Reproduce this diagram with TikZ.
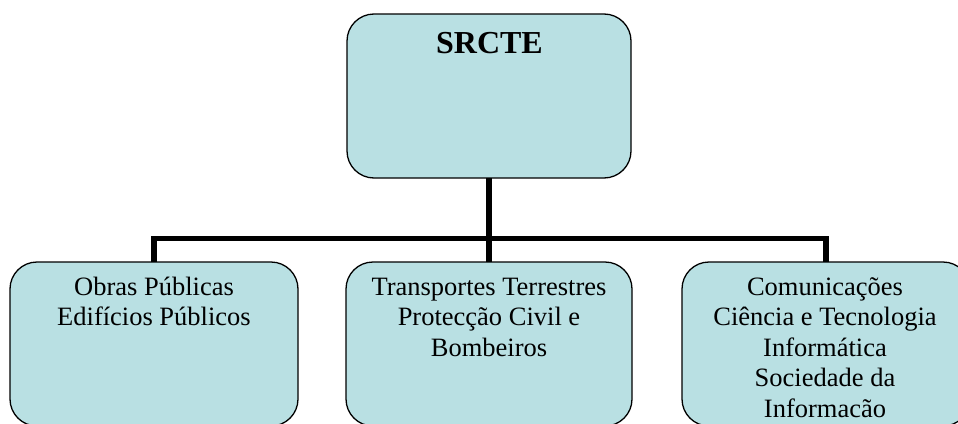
\documentclass[tikz,border=0pt]{standalone}
\usepackage{fontspec}
\setmainfont{Liberation Serif}
\definecolor{boxfill}{RGB}{185,224,227}
\begin{document}
\begin{tikzpicture}[x=1pt,y=-1pt,
  box/.style={draw=black, line width=1.3pt, fill=boxfill, rounded corners=27pt, inner sep=0pt, outer sep=0pt},
  toptxt/.style={font=\fontsize{32}{36}\selectfont\bfseries, inner sep=0pt, anchor=base},
  subtxt/.style={font=\fontsize{26.5}{30.5}\selectfont, align=center, inner sep=0pt, anchor=base},
  link/.style={line width=5.5pt, line join=miter, draw=black}]
\useasboundingbox (0,0) rectangle (958,423);
\clip (0,0) rectangle (958,423);
\node[box, minimum width=284pt, minimum height=164pt] (top) at (489,96) {};
\node[box, minimum width=288pt, minimum height=164pt] (b1) at (154,344) {};
\node[box, minimum width=286pt, minimum height=164pt] (b2) at (489,344) {};
\node[box, minimum width=288pt, minimum height=164pt] (b3) at (826,344) {};
\coordinate (hbar) at (489,238.5);
\draw[link] (top.south) -- (b2.north);
\draw[link] (b1.north) |- (hbar) -| (b3.north);
\node[toptxt] (ttop) at (489.5,53) {SRCTE};
\node[subtxt] (t1) at (154,325.5) {Obras Públicas\\Edifícios Públicos};
\node[subtxt] (t2) at (489,356) {Transportes Terrestres\\Protecção Civil e\\Bombeiros};
\node[subtxt] (t3) at (825,417) {Comunicações\\Ciência e Tecnologia\\Informática\\Sociedade da\\Informacão};
\end{tikzpicture}
\end{document}
